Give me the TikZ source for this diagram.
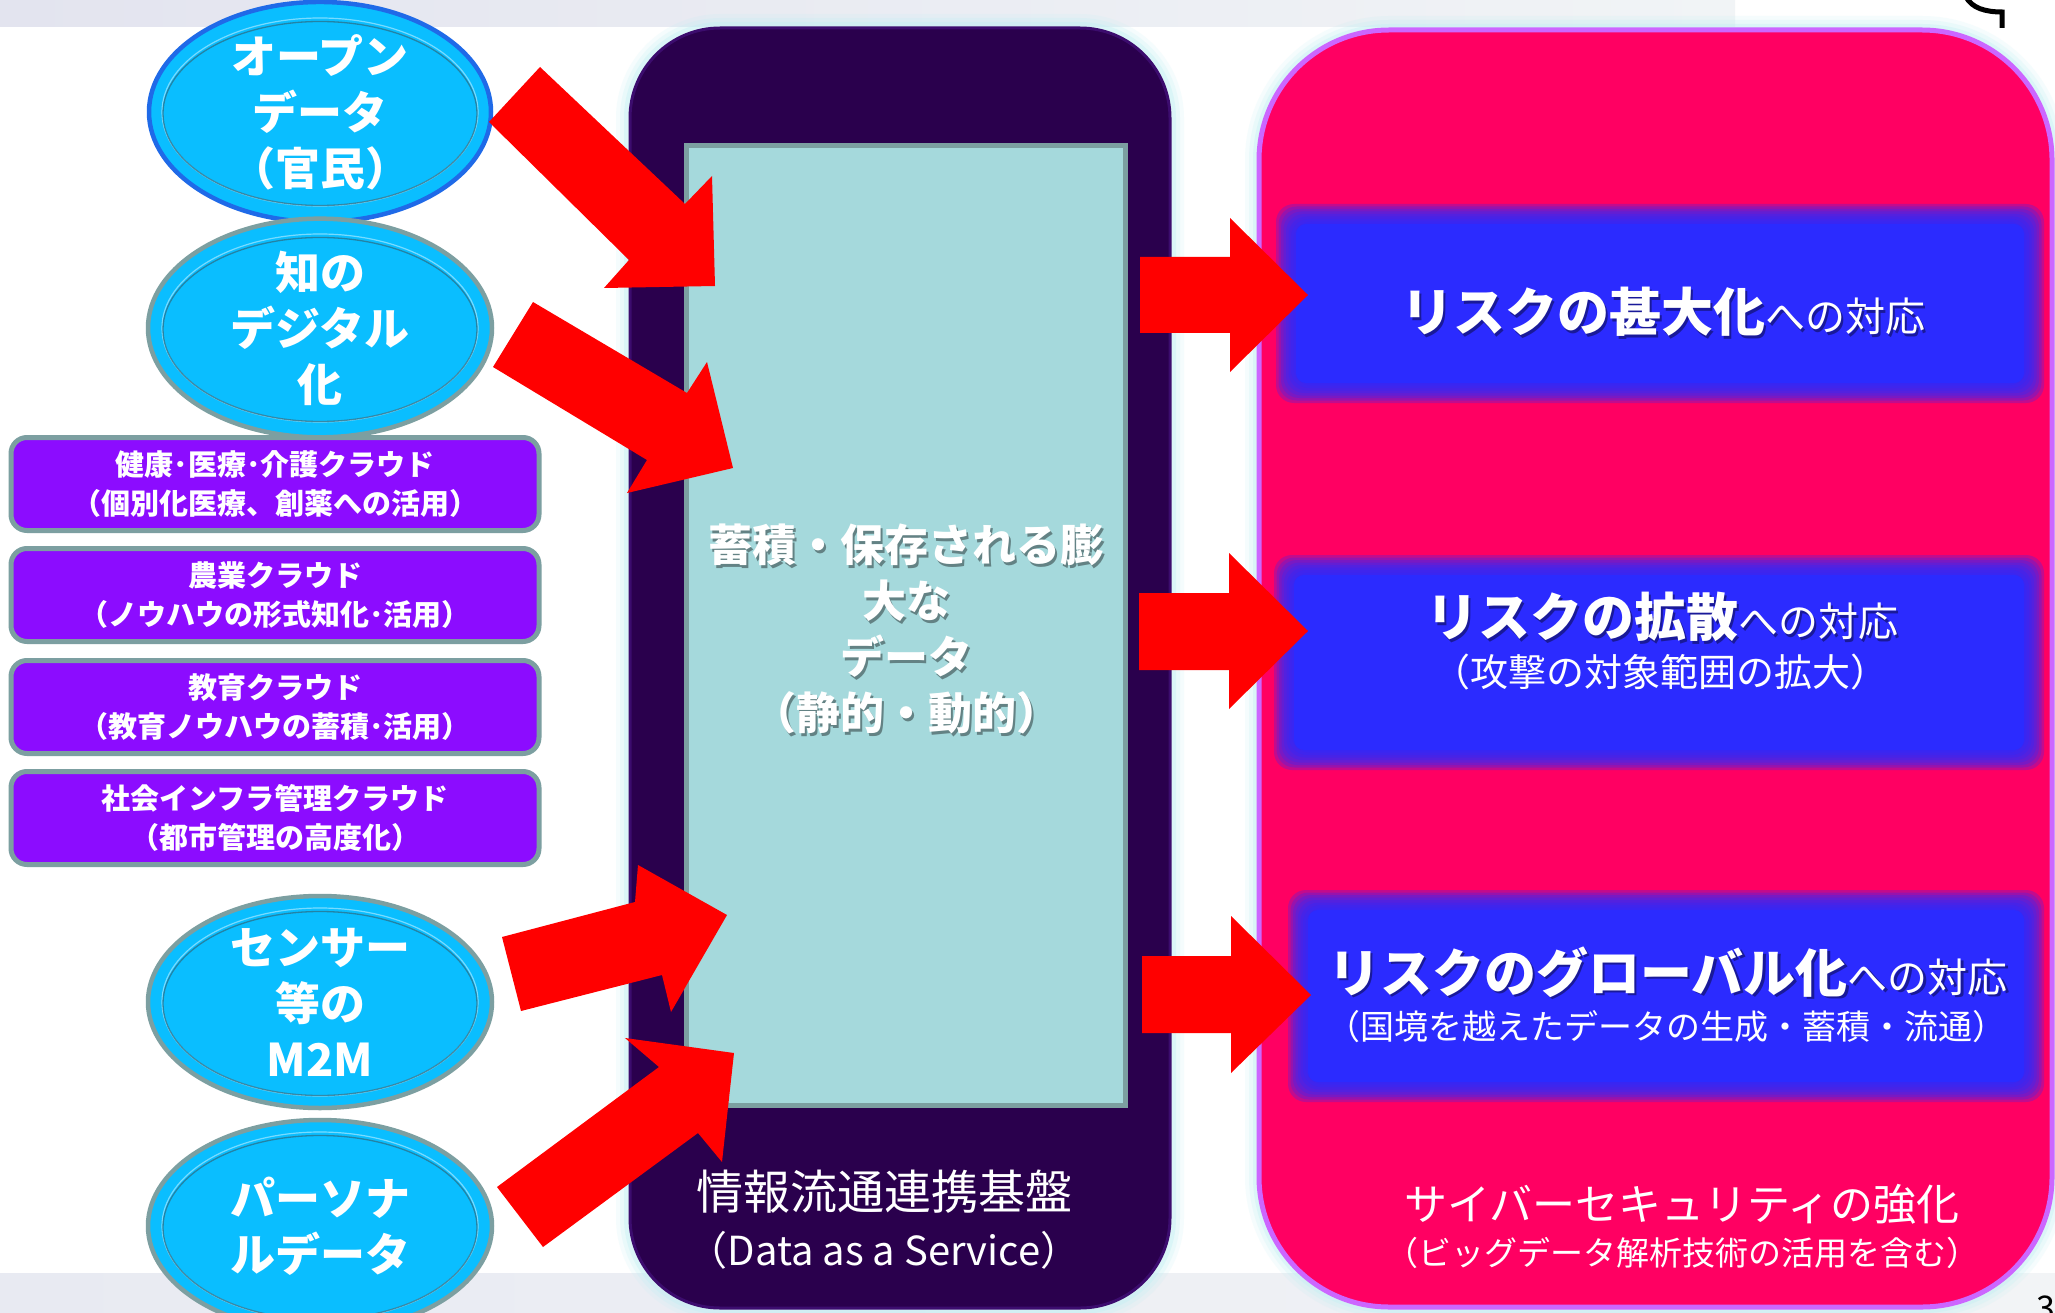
\documentclass[tikz,border=0pt]{standalone}
\usepackage{fontspec}
\setmainfont{Noto Sans CJK JP}
\usetikzlibrary{shapes.geometric}
\definecolor{bandL}{HTML}{E3E4EF}
\definecolor{bandR}{HTML}{F1F4F6}
\definecolor{bandB}{HTML}{E8EAF2}
\definecolor{bandBR}{HTML}{F2F4F6}
\definecolor{glowc}{HTML}{BFEFF3}
\definecolor{darkfill}{HTML}{2A004D}
\definecolor{darkline}{HTML}{3C0C6E}
\definecolor{innerfill}{HTML}{A5D9DC}
\definecolor{tealline}{HTML}{7C9FA1}
\definecolor{pinkfill}{HTML}{FF0062}
\definecolor{pinkline}{HTML}{CC66FF}
\definecolor{bluebox}{HTML}{2B2BFF}
\definecolor{arrowred}{HTML}{FF0000}
\definecolor{ellfill}{HTML}{0ABEFF}
\definecolor{ellblue}{HTML}{1F6AE8}
\definecolor{ringdark}{HTML}{2E6A80}
\definecolor{purplebox}{HTML}{8C0CFF}
\newcommand{\blurbox}[4]{%
  \foreach \k in {0,...,7}{%
    \fill[bluebox, fill opacity=0.28, rounded corners=18pt]
      ({#1+2.5*\k},{#2+2.5*\k}) rectangle ({#3-2.5*\k},{#4-2.5*\k});
  }%
  \fill[bluebox, rounded corners=10pt] ({#1+20},{#2+20}) rectangle ({#3-20},{#4-20});
}
\begin{document}
\begin{tikzpicture}[x=1pt,y=-1pt,
  ell/.style={ellipse, fill=ellfill, line width=4.5pt, draw=tealline, inner sep=0pt,
    text=white, align=center, font=\bfseries\fontsize{45}{56}\selectfont},
  ringin/.style={draw=ringdark, line width=1.3pt, opacity=0.7},
  ringhi/.style={draw=white, line width=1.2pt, opacity=0.45},
  pbox/.style={rectangle, rounded corners=16pt, fill=purplebox, draw=tealline, line width=5pt,
    minimum width=528pt, minimum height=93pt, text=white, align=center,
    font=\bfseries\fontsize{29}{39}\selectfont},
  redarr/.style={fill=arrowred},
  wtxt/.style={text=white, inner sep=0pt, align=center},
  shtxt/.style={text=black, opacity=0.4, inner sep=0pt, align=center}
]
\useasboundingbox (0,0) rectangle (2055,1313);
\fill[white] (0,0) rectangle (2055,1313);
% bands
\shade[left color=bandL, right color=bandR] (0,0) rectangle (1735,27);
\shade[left color=bandB, right color=bandBR] (0,1273) rectangle (2055,1313);

% glows
\foreach \w/\o in {28/0.15,20/0.22,12/0.35}{
  \draw[glowc, line width=\w pt, opacity=\o, rounded corners=90pt] (630,28) rectangle (1170,1308);
  \draw[glowc, line width=\w pt, opacity=\o, rounded corners=130pt] (1259,30) rectangle (2052,1307);
}

% dark platform box
\node[rectangle, rounded corners=90pt, fill=darkfill, draw=darkline, line width=3pt,
  minimum width=540pt, minimum height=1280pt, inner sep=0pt] (db) at (900,668) {};
\node[rectangle, fill=innerfill, draw=tealline, line width=5pt,
  minimum width=439pt, minimum height=959pt, inner sep=0pt] (ib) at (905.5,625.5) {};
\node[shtxt, font=\bfseries\fontsize{44}{56}\selectfont] (cs) at (908.5,631.5)
  {蓄積・保存される膨\\大な\\データ\\（静的・動的）};
\node[wtxt, font=\bfseries\fontsize{44}{56}\selectfont] (c) at (906,629)
  {蓄積・保存される膨\\大な\\データ\\（静的・動的）};
\node[wtxt, font=\fontsize{47}{56}\selectfont] (d1) at (884,1192) {情報流通連携基盤};
\node[wtxt, font=\fontsize{40}{46}\selectfont] (d2) at (884,1250) {（Data as a Service）};

% pink security box
\node[rectangle, rounded corners=130pt, fill=pinkfill, draw=pinkline, line width=5pt,
  minimum width=793pt, minimum height=1277pt, inner sep=0pt] (pb) at (1655.5,668.5) {};
\blurbox{1276}{204}{2044}{403}
\blurbox{1274}{555}{2044}{770}
\blurbox{1288}{890}{2044}{1102}

\node[shtxt, font=\bfseries\fontsize{52}{60}\selectfont] (r1s) at (1665.5,314.5)
  {リスクの甚大化{\mdseries\fontsize{40}{48}\selectfont への対応}};
\node[wtxt, font=\bfseries\fontsize{52}{60}\selectfont] (r1) at (1663,312)
  {リスクの甚大化{\mdseries\fontsize{40}{48}\selectfont への対応}};
\node[shtxt, font=\bfseries\fontsize{52}{60}\selectfont] (r2s) at (1664.5,619.5)
  {リスクの拡散{\mdseries\fontsize{40}{48}\selectfont への対応}};
\node[wtxt, font=\bfseries\fontsize{52}{60}\selectfont] (r2) at (1662,617)
  {リスクの拡散{\mdseries\fontsize{40}{48}\selectfont への対応}};
\node[wtxt, font=\fontsize{38}{46}\selectfont] (r2b) at (1660,672) {（攻撃の対象範囲の拡大）};
\node[shtxt, font=\bfseries\fontsize{52}{60}\selectfont] (r3s) at (1670.5,974.5)
  {リスクのグローバル化{\mdseries\fontsize{40}{48}\selectfont への対応}};
\node[wtxt, font=\bfseries\fontsize{52}{60}\selectfont] (r3) at (1668,972)
  {リスクのグローバル化{\mdseries\fontsize{40}{48}\selectfont への対応}};
\node[wtxt, font=\fontsize{34}{42}\selectfont] (r3b) at (1666,1027) {（国境を越えたデータの生成・蓄積・流通）};

\node[wtxt, font=\fontsize{43}{50}\selectfont] (p1) at (1682,1204) {サイバーセキュリティの強化};
\node[wtxt, font=\fontsize{33}{40}\selectfont] (p2) at (1682,1253) {（ビッグデータ解析技術の活用を含む）};

% ellipses
\node[ell, draw=ellblue, minimum width=342pt, minimum height=206pt] (e1) at (320,112) {オープン\\データ\\（官民）};
\node[ell, minimum width=344pt, minimum height=210pt] (e2) at (320,328) {知の\\デジタル\\化};
\node[ell, minimum width=344pt, minimum height=212pt] (e3) at (320,1002) {センサー\\等の\\M2M};
\node[ell, minimum width=344pt, minimum height=212pt] (e4) at (320,1226) {パーソナ\\ルデータ};
\foreach \e in {e1,e2,e3,e4}{
  \draw[ringhi] (\e.center) ellipse [x radius=158pt, y radius=94pt];
  \draw[ringin] ([yshift=-1.5pt]\e.center) ellipse [x radius=157pt, y radius=92pt];
}

% purple cloud boxes
\node[pbox] (b1) at (275,484) {健康･医療･介護クラウド\\（個別化医療、創薬への活用）};
\node[pbox] (b2) at (275,595) {農業クラウド\\（ノウハウの形式知化･活用）};
\node[pbox] (b3) at (275,707) {教育クラウド\\（教育ノウハウの蓄積･活用）};
\node[pbox] (b4) at (275,818) {社会インフラ管理クラウド\\（都市管理の高度化）};

% red block arrows into the data store
\fill[redarr] (540,67) -- (685,204) -- (712,176) -- (715,286) -- (604,288) -- (629,260) -- (489,122) -- cycle;
\fill[redarr] (533,302) -- (687,393) -- (707,362) -- (733,468) -- (627,493) -- (647,460) -- (493,367) -- cycle;
\fill[redarr] (521,1011) -- (502,937) -- (635,902) -- (638,865) -- (727,915) -- (671,1012) -- (662,975) -- cycle;
\fill[redarr] (497,1187) -- (659,1067) -- (625,1038) -- (734,1053) -- (722,1162) -- (698,1133) -- (543,1247) -- cycle;
% red block arrows to the risk boxes
\fill[redarr] (1140,257) -- (1230,257) -- (1230,218) -- (1308,295) -- (1230,372) -- (1230,333) -- (1140,333) -- cycle;
\fill[redarr] (1139,593) -- (1229,593) -- (1229,553) -- (1308,631) -- (1229,709) -- (1229,670) -- (1139,670) -- cycle;
\fill[redarr] (1142,956) -- (1231,956) -- (1231,916) -- (1311,995) -- (1231,1073) -- (1231,1033) -- (1142,1033) -- cycle;

% cut-off marks at the page corners
\draw[line width=5pt] (1966,-3) .. controls (1972,8) and (1985,12) .. (2002,12) -- (2002,28);
\node[text=black, inner sep=0pt, anchor=north, font=\fontsize{34}{34}\selectfont] (pg) at (2046,1296) {3};
\end{tikzpicture}
\end{document}
